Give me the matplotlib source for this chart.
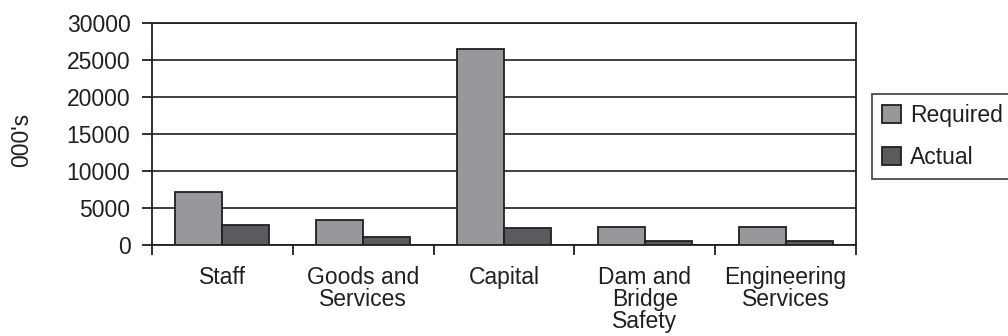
import matplotlib

matplotlib.use("Agg")
import matplotlib.pyplot as plt  # noqa: E402
import numpy as np  # noqa: E402

categories = ["Staff", "Goods and\nServices", "Capital", "Dam and\nBridge\nSafety",
              "Engineering\nServices"]
required = [7200, 3350, 26500, 2500, 2500]
actual = [2650, 1100, 2300, 550, 550]
y_ticks = [0, 5000, 10000, 15000, 20000, 25000, 30000]

INK = "#231f20"
plt.rcParams["font.family"] = ["Liberation Sans", "DejaVu Sans"]
plt.rcParams["font.size"] = 16.5

W, H = 1008, 336
fig = plt.figure(figsize=(W / 100, H / 100), dpi=100)
ax = fig.add_axes([152 / W, 1 - 245 / H, (856 - 152) / W, (245 - 23) / H])

x = np.arange(len(categories))
bw = 1 / 3
ax.bar(x - bw / 2, required, bw, color="#97989c", edgecolor=INK, linewidth=1.3,
       label="Required", zorder=3)
ax.bar(x + bw / 2, actual, bw, color="#5a5b5e", edgecolor=INK, linewidth=1.3,
       label="Actual", zorder=3)

ax.set_xlim(-0.5, len(categories) - 0.5)
ax.set_ylim(0, 30000)
ax.set_yticks(y_ticks)
ax.set_yticklabels([str(v) for v in y_ticks], color=INK)
ax.yaxis.grid(True, color=INK, linewidth=1.2, zorder=1)
ax.set_axisbelow(True)

# category boundaries get the ticks, names sit on minor ticks at the centres
ax.set_xticks(np.arange(len(categories) + 1) - 0.5)
ax.set_xticklabels([])
ax.set_xticks(x, minor=True)
ax.set_xticklabels(categories, minor=True, color=INK, linespacing=0.95, va="top")
ax.tick_params(axis="x", which="major", direction="out", length=7.5, width=1.3, color=INK)
ax.tick_params(axis="x", which="minor", length=0, pad=15)
ax.tick_params(axis="y", direction="out", length=7.5, width=1.3, color=INK, pad=8)

for s in ax.spines.values():
    s.set_color(INK)
    s.set_linewidth(1.3)

fig.text(22 / W, 1 - 140 / H, "000's", rotation=90, ha="center", va="center", color=INK)

leg = fig.legend(loc="upper left", bbox_to_anchor=(872 / W, 1 - 94 / H),
                 frameon=True, fancybox=False, handlelength=0.85, handleheight=0.85,
                 handletextpad=0.4, labelspacing=0.85, borderpad=0.42,
                 borderaxespad=0, labelcolor=INK)
leg.get_frame().set_edgecolor(INK)
leg.get_frame().set_linewidth(1.3)

fig.savefig("out.png", dpi=100, facecolor="white")
